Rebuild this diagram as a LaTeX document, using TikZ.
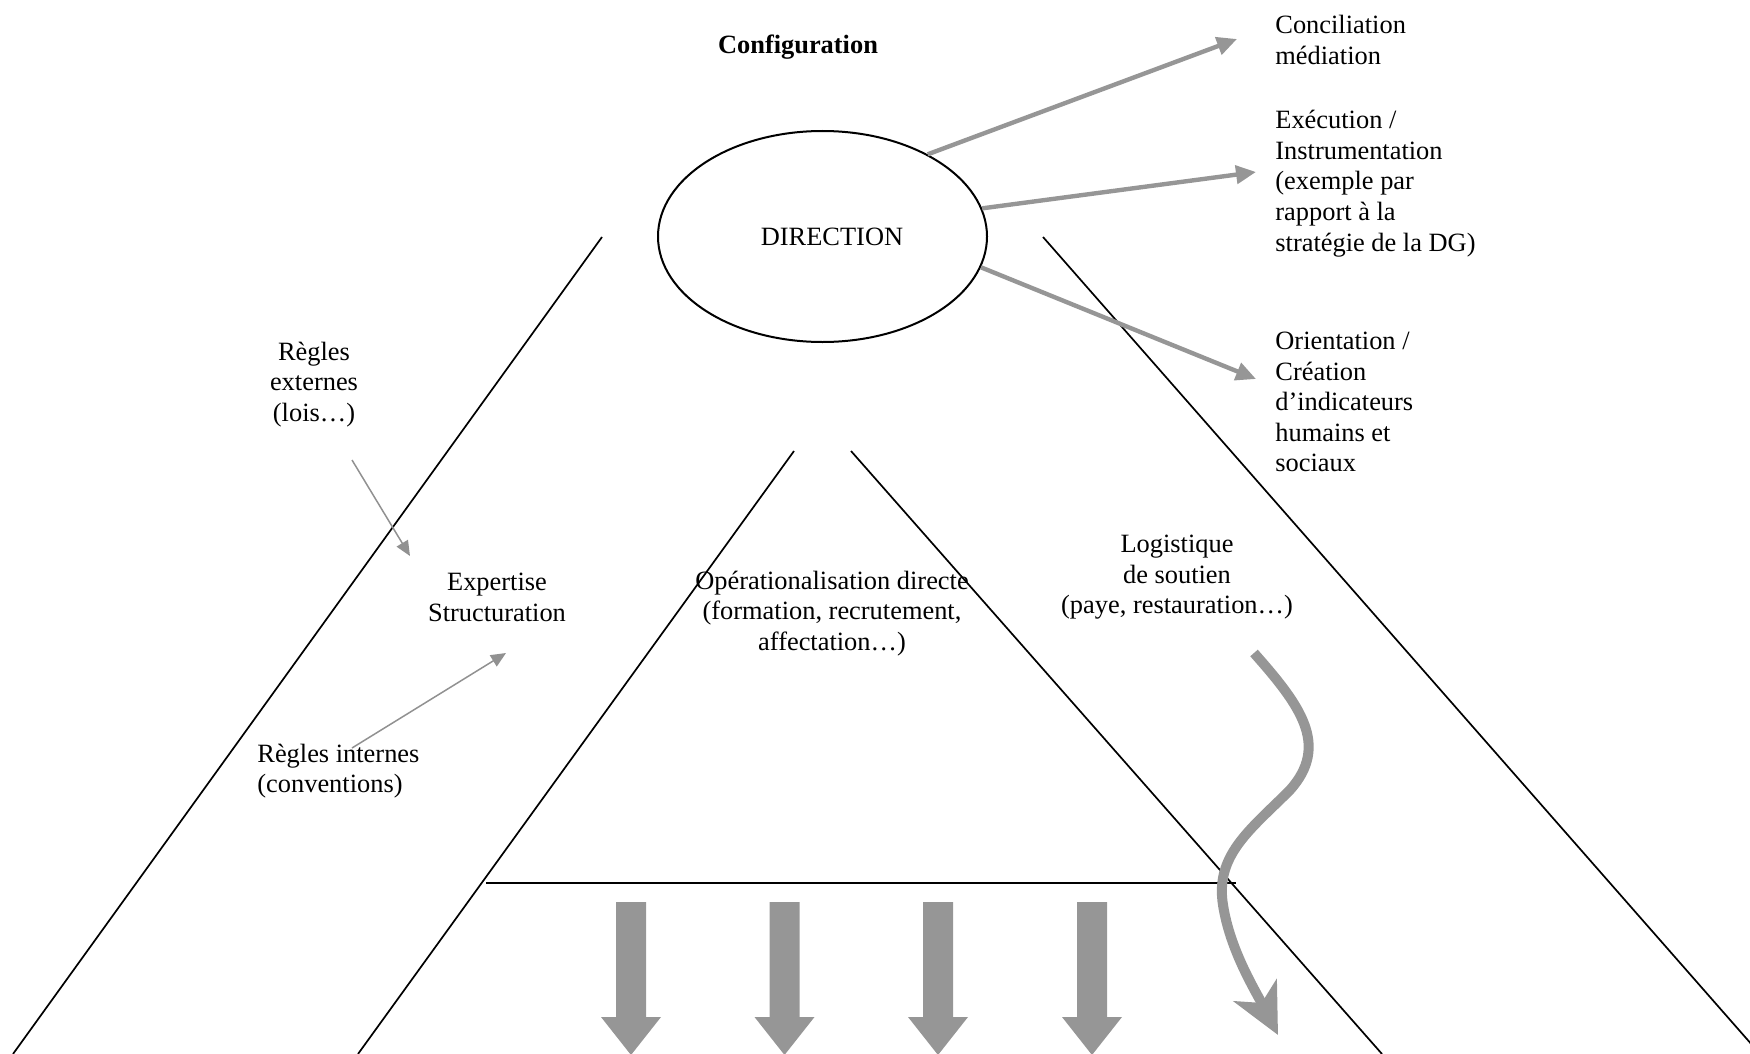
\documentclass[tikz,border=0pt]{standalone}
\usepackage{fontspec}
\setmainfont{Liberation Serif}
\usetikzlibrary{shapes.geometric,arrows.meta}
\definecolor{agray}{RGB}{150,150,150}
\definecolor{tgray}{RGB}{145,145,145}
\begin{document}
\begin{tikzpicture}[x=0.5pt,y=-0.5pt,
  txt/.style={font=\fontsize{13.2}{15.3}\selectfont, inner sep=0pt, align=center},
  txtl/.style={txt, align=left},
  edgeline/.style={line width=0.85pt, draw=black},
  bigarrow/.style={draw=agray, line width=2.2pt, -{Triangle[length=10pt,width=9pt]}},
  thinarrow/.style={draw=tgray, line width=0.75pt, -{Triangle[length=7.5pt,width=6.5pt]}},
  wavearrow/.style={draw=agray, line width=5pt, -{Stealth[length=25pt,width=24pt,inset=7pt]}},
  blockarrow/.style={fill=agray}
]
\useasboundingbox (0,0) rectangle (1750,1054);

% pyramid lines
\coordinate (olt) at (602,237);  \coordinate (olb) at (13,1054);
\coordinate (ilt) at (794,451);  \coordinate (ilb) at (358,1054);
\coordinate (irt) at (851,451);  \coordinate (irb) at (1382,1054);
\coordinate (ort) at (1043,237); \coordinate (orb) at (1760,1054);
\coordinate (hl) at (486,883);   \coordinate (hr) at (1236,883);
\draw[edgeline] (olt) -- (olb);
\draw[edgeline] (ilt) -- (ilb);
\draw[edgeline] (irt) -- (irb);
\draw[edgeline] (ort) -- (orb);
\draw[edgeline, line width=1.35pt] (hl) -- (hr);

% title
\node[txt, font=\fontsize{13.2}{15.3}\selectfont\bfseries] (config) at (798,47.5) {Configuration};

% direction
\node[ellipse, draw, line width=1pt, minimum width=164.5pt, minimum height=105.5pt, inner sep=0pt] (dir) at (822.5,236.5) {};
\node[txt] (dirtxt) at (832,237) {DIRECTION};

% right texts
\node[txtl, anchor=west] (concil) at (1275,40) {Conciliation\\médiation};
\node[txtl, anchor=west] (exec) at (1275,183.5) {Exécution /\\Instrumentation\\(exemple par\\rapport à la\\stratégie de la DG)};
\node[txtl, anchor=west] (orient) at (1275,402) {Orientation /\\Création\\d’indicateurs\\humains et\\sociaux};

\coordinate (e1) at (1237,39);
\coordinate (e2) at (1256,172);
\coordinate (e3) at (1256,379);
\draw[bigarrow] (dir.38.4) -- (e1);
\draw[bigarrow] (dir.10.2) -- (e2);
\draw[bigarrow] (dir.-11.2) -- (e3);

% inner texts
\node[txt] (rext) at (314,384.5) {Règles\\externes\\(lois…)};
\node[txt] (expert) at (497,597.5) {Expertise\\Structuration};
\node[txtl, anchor=west] (rint) at (257,771) {Règles internes\\(conventions)};
\node[txt] (oper) at (832,613.5) {Opérationalisation directe\\(formation, recrutement,\\affectation…)};
\node[txt] (logi) at (1177,577.5) {Logistique\\de soutien\\(paye, restauration…)};

% thin arrows
\coordinate (a1s) at (352,460); \coordinate (a1e) at (410,556);
\coordinate (a2s) at (352,748); \coordinate (a2e) at (506,653);
\draw[thinarrow] (a1s) -- (a1e);
\draw[thinarrow] (a2s) -- (a2e);

% wavy arrow
\coordinate (w0) at (1254,653);
\coordinate (w1) at (1290,790);
\coordinate (w2) at (1223,905);
\coordinate (w3) at (1278,1035);
\draw[wavearrow] (w0) .. controls (1300,705) and (1330,745) .. (w1)
  .. controls (1250,830) and (1215,855) .. (w2)
  .. controls (1230,950) and (1255,990) .. (w3);

% block arrows
\foreach \cx in {631,784.5,938,1092} {
  \fill[blockarrow] (\cx-15,902) -- (\cx+15,902) -- (\cx+15,1017) -- (\cx+30,1017)
    -- (\cx,1055) -- (\cx-30,1017) -- (\cx-15,1017) -- cycle;
}
\end{tikzpicture}
\end{document}
